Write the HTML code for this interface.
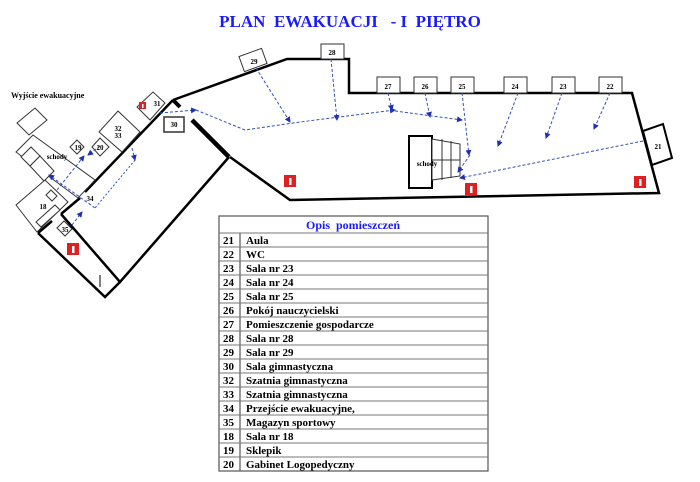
<!DOCTYPE html>
<html><head><meta charset="utf-8"><style>
body{margin:0;background:#fff;width:700px;height:482px;overflow:hidden}
svg{display:block}
text{font-family:"Liberation Serif",serif;font-weight:bold}
</style></head><body>
<svg width="700" height="482" viewBox="0 0 700 482" xmlns="http://www.w3.org/2000/svg">
<text x="350" y="27" font-size="17" fill="#1a1aff" text-anchor="middle" style="white-space:pre" xml:space="preserve">PLAN  EWAKUACJI   - I  PIĘTRO</text>
<text x="11" y="98" font-size="8">Wyjście ewakuacyjne</text>
<g stroke="#000" stroke-width="2.5" fill="none">
<polyline points="173,100 287,59 349,59 349,93 632,93 659,193 290,200 230,157"/>
<polyline points="85,192 173,100"/>
<polyline points="61,214 80,198"/>
<polyline points="38,233 52,221"/>
<polyline points="61,214 120,282 229,157"/>
<polyline points="38,233 105,297 120,282"/>
</g>
<line x1="192" y1="120" x2="229" y2="157" stroke="#000" stroke-width="4.5"/>
<line x1="173" y1="100" x2="180" y2="107" stroke="#000" stroke-width="4"/>
<line x1="100" y1="275" x2="100" y2="287" stroke="#000" stroke-width="1"/>
<g stroke="#333" stroke-width="1" fill="#fff">
<rect x="241" y="52" width="24" height="16" transform="rotate(-20 253 60)"/>
<rect x="321" y="44" width="23" height="15"/>
<rect x="377" y="77" width="23" height="16"/>
<rect x="414" y="77" width="23" height="16"/>
<rect x="451" y="77" width="23" height="16"/>
<rect x="504" y="77" width="23" height="16"/>
<rect x="552" y="77" width="23" height="16"/>
<rect x="599" y="77" width="23" height="16"/>
<polygon points="643,131 663,124 672,158 652,165" stroke="#000" stroke-width="2"/>
<rect x="164" y="117" width="20" height="15" stroke-width="1.5"/>
<polygon points="137,107 153,92 165,103 150,120"/>
<polygon points="17,123 35,108 47,120 29,135"/>
<polygon points="16,152 33,135 95,180 78,198"/>
<polygon points="21,157 31,147 40,156 30,166"/>
<polygon points="30,166 40,156 54,171 44,181"/>
<polygon points="16,205 45,180 68,202 37,232"/>
<polygon points="46,195 51,190 57,196 52,201"/>
<polygon points="36,222 55,205 60,210 41,227"/>
<polygon points="70,147 77,140 84,147 77,154"/>
<polygon points="92,147 100,138 109,147 100,156"/>
<polygon points="99,132 118,111 140,132 122,152"/>
<polygon points="57,228 64,221 72,229 65,236"/>
<rect x="409" y="136" width="23" height="52" stroke="#000" stroke-width="2"/>
<polygon points="432,139 460,144 460,176 432,180"/>
<line x1="432" y1="160" x2="460" y2="160"/>
<line x1="442" y1="139" x2="442" y2="180"/><line x1="451" y1="141" x2="451" y2="178"/>
</g>
<defs><marker id="a" markerWidth="6" markerHeight="6" refX="5" refY="3" orient="auto"><path d="M0,0 L6,3 L0,6z" fill="#2030b0"/></marker></defs>
<g stroke="#3050c0" stroke-width="1" stroke-dasharray="3,2" fill="none" marker-end="url(#a)">
<polyline points="256,68 290,122"/>
<polyline points="331,59 337,120"/>
<polyline points="388,93 392,110"/>
<polyline points="425,93 430,117"/>
<polyline points="462,93 469,155"/>
<polyline points="518,93 498,146"/>
<polyline points="562,93 546,138"/>
<polyline points="610,93 594,129"/>
<polyline points="643,141 460,178"/>
<polyline points="470,155 458,172"/>
<polyline points="395,111 462,120"/>
<polyline points="160,113 196,110"/>
<polyline points="196,110 245,130 300,122 395,110"/>
<polyline points="132,148 135,160"/>
<polyline points="95,208 49,175"/>
<polyline points="72,225 82,212"/>
<polyline points="57,190 84,156"/>
<polyline points="100,146 88,155"/>
</g>
<polyline points="135,160 95,208" stroke="#3050c0" stroke-width="1" stroke-dasharray="2,2" fill="none"/>
<g font-size="7" text-anchor="middle">
<text x="254" y="64">29</text><text x="332" y="55">28</text>
<text x="388" y="89">27</text><text x="425" y="89">26</text><text x="462" y="89">25</text>
<text x="515" y="89">24</text><text x="563" y="89">23</text><text x="610" y="89">22</text>
<text x="658" y="149">21</text><text x="174" y="127">30</text><text x="157" y="106">31</text>
<text x="118" y="131">32</text><text x="118" y="138">33</text>
<text x="78" y="150">19</text><text x="100" y="150">20</text>
<text x="43" y="209">18</text><text x="65" y="232">35</text><text x="90" y="201">34</text>
<text x="57" y="159">schody</text><text x="427" y="166">schody</text>
</g>
<g>
<rect x="139" y="102" width="7" height="7" fill="#e02020"/>
<rect x="67" y="243" width="12" height="12" fill="#e02020"/>
<rect x="284" y="175" width="12" height="12" fill="#e02020"/>
<rect x="465" y="183" width="12" height="12" fill="#e02020"/>
<rect x="634" y="176" width="12" height="12" fill="#e02020"/>
<g fill="#fff"><rect x="142" y="104" width="1.5" height="4"/><rect x="72" y="246" width="2.5" height="7"/><rect x="289" y="178" width="2.5" height="7"/><rect x="470" y="186" width="2.5" height="7"/><rect x="639" y="179" width="2.5" height="7"/></g>
</g>
<g stroke="#555" stroke-width="1.2" fill="none">
<rect x="219" y="216" width="269" height="255"/>
<line x1="240" y1="233" x2="240" y2="471"/>
</g>
<g stroke="#777" stroke-width="1">
<line x1="219" y1="233" x2="488" y2="233"/><line x1="219" y1="247" x2="488" y2="247"/><line x1="219" y1="261" x2="488" y2="261"/><line x1="219" y1="275" x2="488" y2="275"/><line x1="219" y1="289" x2="488" y2="289"/><line x1="219" y1="303" x2="488" y2="303"/><line x1="219" y1="317" x2="488" y2="317"/><line x1="219" y1="331" x2="488" y2="331"/><line x1="219" y1="345" x2="488" y2="345"/><line x1="219" y1="359" x2="488" y2="359"/><line x1="219" y1="373" x2="488" y2="373"/><line x1="219" y1="387" x2="488" y2="387"/><line x1="219" y1="401" x2="488" y2="401"/><line x1="219" y1="415" x2="488" y2="415"/><line x1="219" y1="429" x2="488" y2="429"/><line x1="219" y1="443" x2="488" y2="443"/><line x1="219" y1="457" x2="488" y2="457"/>
</g>
<text x="353" y="229" font-size="12" fill="#1a1aff" text-anchor="middle" style="white-space:pre" xml:space="preserve">Opis  pomieszczeń</text>
<g font-size="11">
<text x="223" y="244">21</text><text x="246" y="244">Aula</text>
<text x="223" y="258">22</text><text x="246" y="258">WC</text>
<text x="223" y="272">23</text><text x="246" y="272">Sala nr 23</text>
<text x="223" y="286">24</text><text x="246" y="286">Sala nr 24</text>
<text x="223" y="300">25</text><text x="246" y="300">Sala nr 25</text>
<text x="223" y="314">26</text><text x="246" y="314">Pokój nauczycielski</text>
<text x="223" y="328">27</text><text x="246" y="328">Pomieszczenie gospodarcze</text>
<text x="223" y="342">28</text><text x="246" y="342">Sala nr 28</text>
<text x="223" y="356">29</text><text x="246" y="356">Sala nr 29</text>
<text x="223" y="370">30</text><text x="246" y="370">Sala gimnastyczna</text>
<text x="223" y="384">32</text><text x="246" y="384">Szatnia gimnastyczna</text>
<text x="223" y="398">33</text><text x="246" y="398">Szatnia gimnastyczna</text>
<text x="223" y="412">34</text><text x="246" y="412">Przejście ewakuacyjne,</text>
<text x="223" y="426">35</text><text x="246" y="426">Magazyn sportowy</text>
<text x="223" y="440">18</text><text x="246" y="440">Sala nr 18</text>
<text x="223" y="454">19</text><text x="246" y="454">Sklepik</text>
<text x="223" y="468">20</text><text x="246" y="468">Gabinet Logopedyczny</text>
</g>
</svg>
</body></html>
